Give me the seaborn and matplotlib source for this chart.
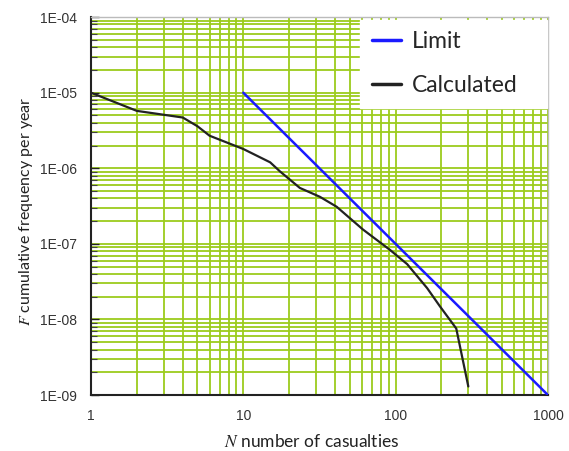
import numpy as np
import pandas as pd
import seaborn as sns
import matplotlib.pyplot as plt
from matplotlib.ticker import LogLocator, FixedLocator, NullFormatter

# F-N curve data
limit_n = [10, 1000]
limit_f = [1e-5, 1e-9]

calc_n = [1, 2, 4, 5, 6, 10, 15, 17.4, 23.5, 31.8, 41, 61, 92, 119, 161, 195, 250, 300]
calc_f = [1e-5, 5.75e-6, 4.7e-6, 3.6e-6, 2.7e-6, 1.8e-6, 1.2e-6, 9.1e-7, 5.5e-7,
          4.2e-7, 3.1e-7, 1.55e-7, 8.3e-8, 5.4e-8, 2.6e-8, 1.5e-8, 7.6e-9, 1.3e-9]

y_ticks = [1e-9, 1e-8, 1e-7, 1e-6, 1e-5, 1e-4]
y_labels = ["1E-09", "1E-08", "1E-07", "1E-06", "1E-05", "1E-04"]
x_ticks = [1, 10, 100, 1000]
x_labels = ["1", "10", "100", "1000"]

df_lim = pd.DataFrame({"N": limit_n, "F": limit_f})
df_calc = pd.DataFrame({"N": calc_n, "F": calc_f})

sns.set_style("white")
plt.rcParams['font.family'] = ['Liberation Sans', 'DejaVu Sans']
plt.rcParams['mathtext.fontset'] = 'stix'

fig = plt.figure(figsize=(5.69, 4.51), dpi=100)
ax = fig.add_axes([0.16, 0.124, 0.803, 0.838])

ax.set_xscale("log")
ax.set_yscale("log")
ax.set_xlim(1, 1000)
ax.set_ylim(1e-9, 1e-4)

grid_col = "#9ccc1c"
ax.xaxis.set_minor_locator(LogLocator(base=10, subs=np.arange(2, 10)))
ax.yaxis.set_minor_locator(LogLocator(base=10, subs=np.arange(2, 10)))
ax.grid(True, which="both", color=grid_col, linewidth=1.3)
ax.set_axisbelow(True)

sns.lineplot(data=df_lim, x="N", y="F", ax=ax, color="#1a1aff", linewidth=1.8,
             label="Limit", zorder=3)
sns.lineplot(data=df_calc, x="N", y="F", ax=ax, color="#222222", linewidth=1.6,
             label="Calculated", zorder=3)

ax.xaxis.set_major_locator(FixedLocator(x_ticks))
ax.set_xticklabels(x_labels)
ax.yaxis.set_major_locator(FixedLocator(y_ticks))
ax.set_yticklabels(y_labels)
ax.xaxis.set_minor_formatter(NullFormatter())
ax.yaxis.set_minor_formatter(NullFormatter())

ax.tick_params(axis="x", which="major", direction="out", length=4, width=1,
               color="#222222", labelsize=10, labelcolor="#333333", pad=6)
ax.tick_params(axis="x", which="minor", length=0)
ax.tick_params(axis="y", which="major", direction="in", length=6, width=1,
               color="#222222", labelsize=10, labelcolor="#333333", left=True,
               pad=10)
ax.tick_params(axis="y", which="minor", direction="in", length=4, width=0.8,
               color="#444444", left=True)

for s in ["left", "bottom"]:
    ax.spines[s].set_color("#222222")
    ax.spines[s].set_linewidth(1.5)
for s in ["top", "right"]:
    ax.spines[s].set_color("#bbbbbb")
    ax.spines[s].set_linewidth(1)

lab_font = ["Lato", "DejaVu Sans"]
ax.set_xlabel(r"$N$ number of casualties", fontsize=12.5,
              fontfamily=lab_font, color="#222222")
ax.set_ylabel(r"$F$ cumulative frequency per year", fontsize=11.5,
              fontfamily=lab_font, color="#222222")
ax.xaxis.set_label_coords(0.483, -0.1)
ax.yaxis.set_label_coords(-0.122, 0.487)

leg = ax.legend(loc="upper right", mode="expand",
                bbox_to_anchor=(0.589, 0.0, 0.409, 0.993),
                frameon=True, fancybox=False, framealpha=1,
                edgecolor="white", handlelength=1.3,
                handletextpad=0.45, labelspacing=1.0, borderpad=0.5,
                borderaxespad=0.0,
                prop={"family": lab_font, "size": 16.5})
for line in leg.get_lines():
    line.set_linewidth(2.5)

fig.savefig("out.png", dpi=100)
